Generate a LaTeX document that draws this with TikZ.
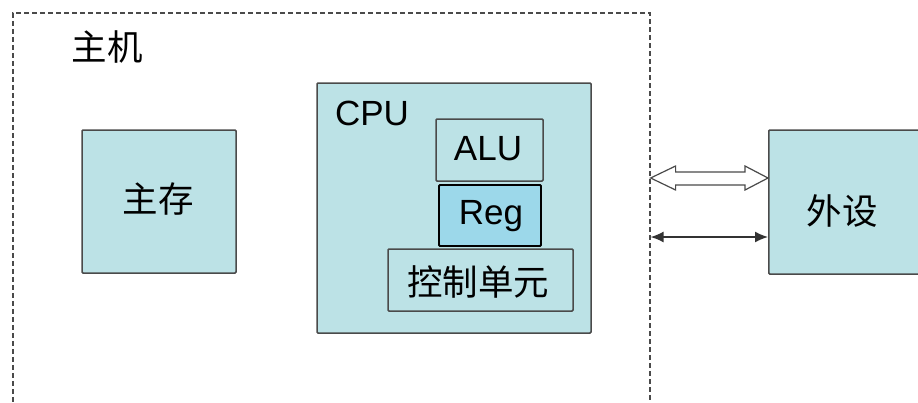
\documentclass[tikz,border=0pt]{standalone}
\usepackage{fontspec}
\setmainfont{Liberation Sans}
\newfontfamily\cjk{Noto Sans CJK SC}
\usetikzlibrary{arrows.meta,calc}
\definecolor{boxfill}{HTML}{BCE2E6}
\definecolor{regfill}{HTML}{9CD8EA}
\definecolor{edge}{HTML}{4A4A4A}
\tikzset{
  unit/.style={draw=edge, line width=1.5pt, fill=boxfill, inner sep=0pt, rounded corners=1pt},
  bigtext/.style={font=\fontsize{35}{40}\selectfont, inner sep=0pt},
  cjktext/.style={font=\cjk\fontsize{35.5}{40}\selectfont, inner sep=0pt},
  hostframe/.style={draw=edge, line width=1.6pt, dash pattern=on 5pt off 3pt},
}
\begin{document}
\begin{tikzpicture}[x=1pt,y=-1pt]
\useasboundingbox (0,0) rectangle (918,402);
\clip (0,0) rectangle (918,402);
\fill[white] (0,0) rectangle (918,402);
% host frame (bottom edge lies outside the picture)
\node[hostframe, minimum width=637pt, minimum height=430pt, anchor=north west, inner sep=0pt] (host) at (12,12) {};
\node[cjktext] (hostlabel) at (107,47) {主机};
% main memory
\node[unit, minimum width=154pt, minimum height=143pt] (mem) at (159,201.5) {};
\node[cjktext] (memlabel) at (158,199) {主存};
% CPU
\node[unit, minimum width=274pt, minimum height=250pt] (cpu) at (454,208) {};
\node[bigtext] (cpulabel) at (372,113) {CPU};
\node[unit, minimum width=107pt, minimum height=62pt] (alu) at (489.5,150) {};
\node[bigtext] (alulabel) at (488,149) {ALU};
\node[unit, draw=black, line width=1.8pt, fill=regfill, minimum width=102pt, minimum height=61pt] (reg) at (490,215.5) {};
\node[bigtext] (reglabel) at (491,216) {Reg};
\node[unit, minimum width=185pt, minimum height=62pt] (ctrl) at (480.5,280) {};
\node[cjktext] (ctrllabel) at (478,282) {控制单元};
% peripheral (cut off at the right edge)
\node[unit, minimum width=170pt, minimum height=144pt, anchor=west] (periph) at (768,202) {};
\node[cjktext] (periphlabel) at (842,211) {外设};
% hollow double arrow
\coordinate (bl) at (host.east |- 0,178);
\coordinate (br) at (periph.west |- 0,178);
\draw[draw=edge, line width=1.2pt, fill=white, line join=miter]
  (bl) -- ++(25,-12) -- ++(0,6) -- ($(br)+(-23,-6)$) -- ++(0,-6) -- (br)
  -- ++(-23,12) -- ++(0,-5) -- ($(bl)+(25,7)$) -- ++(0,5) -- cycle;
% thin double arrow
\coordinate (tl) at (host.east |- 0,237);
\coordinate (tr) at (periph.west |- 0,237);
\draw[draw=black!80, line width=1.5pt, {Latex[length=13pt,width=11pt]}-{Latex[length=13pt,width=11pt]}] (tl) -- (tr);
\end{tikzpicture}
\end{document}
